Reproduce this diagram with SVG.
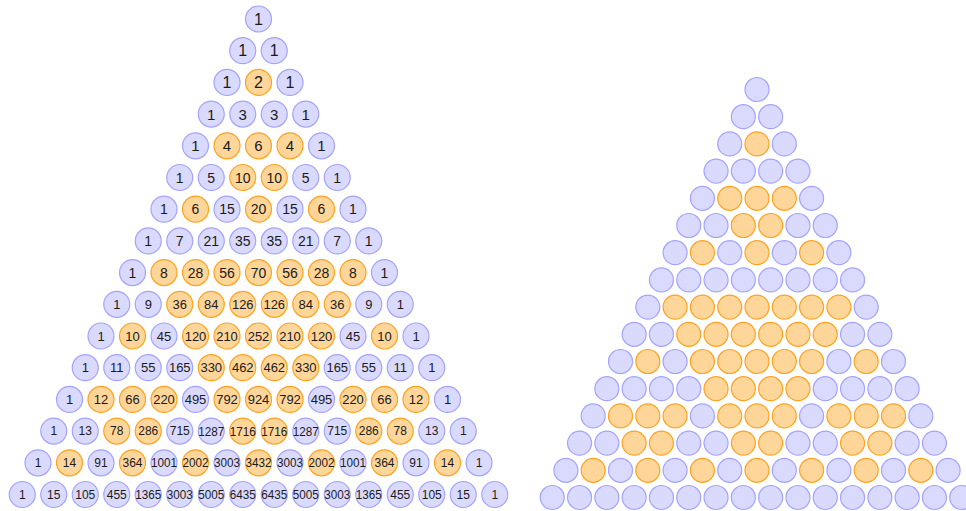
<svg xmlns="http://www.w3.org/2000/svg" width="966" height="511" viewBox="0 0 966 511">
<style>
.b{fill:#dadaff;stroke:#a3a3ff;stroke-width:1.2}
.e{fill:#ffd699;stroke:#ffa21f;stroke-width:1.2}
text{font-family:"Liberation Sans",Arial,sans-serif;fill:#1a1a1a;text-anchor:middle;dominant-baseline:central}
.f16{font-size:16px}.f15{font-size:15px}.f14{font-size:14px}.f13{font-size:13px}.f12{font-size:12px}
.w{font-size:13px}
</style>
<rect width="966" height="511" fill="#ffffff"/>
<g id="connectors"></g>
<g id="left-triangle">
<g class="f16" transform="translate(258.5,19)">
<g id="p0-0"><circle class="b" r="13"/><text>1</text></g>
</g>
<g class="f16" transform="translate(242.75,50.7)">
<g id="p1-0"><circle class="b" r="13"/><text>1</text></g>
<g id="p1-1" transform="translate(31.5)"><circle class="b" r="13"/><text>1</text></g>
</g>
<g class="f16" transform="translate(227,82.4)">
<g id="p2-0"><circle class="b" r="13"/><text>1</text></g>
<g id="p2-1" transform="translate(31.5)"><circle class="e" r="13"/><text>2</text></g>
<g id="p2-2" transform="translate(63)"><circle class="b" r="13"/><text>1</text></g>
</g>
<g class="f15" transform="translate(211.25,114.1)">
<g id="p3-0"><circle class="b" r="13"/><text>1</text></g>
<g id="p3-1" transform="translate(31.5)"><circle class="b" r="13"/><text>3</text></g>
<g id="p3-2" transform="translate(63)"><circle class="b" r="13"/><text>3</text></g>
<g id="p3-3" transform="translate(94.5)"><circle class="b" r="13"/><text>1</text></g>
</g>
<g class="f15" transform="translate(195.5,145.8)">
<g id="p4-0"><circle class="b" r="13"/><text>1</text></g>
<g id="p4-1" transform="translate(31.5)"><circle class="e" r="13"/><text>4</text></g>
<g id="p4-2" transform="translate(63)"><circle class="e" r="13"/><text>6</text></g>
<g id="p4-3" transform="translate(94.5)"><circle class="e" r="13"/><text>4</text></g>
<g id="p4-4" transform="translate(126)"><circle class="b" r="13"/><text>1</text></g>
</g>
<g class="f14" transform="translate(179.75,177.5)">
<g id="p5-0"><circle class="b" r="13"/><text>1</text></g>
<g id="p5-1" transform="translate(31.5)"><circle class="b" r="13"/><text>5</text></g>
<g id="p5-2" transform="translate(63)"><circle class="e" r="13"/><text>10</text></g>
<g id="p5-3" transform="translate(94.5)"><circle class="e" r="13"/><text>10</text></g>
<g id="p5-4" transform="translate(126)"><circle class="b" r="13"/><text>5</text></g>
<g id="p5-5" transform="translate(157.5)"><circle class="b" r="13"/><text>1</text></g>
</g>
<g class="f14" transform="translate(164,209.2)">
<g id="p6-0"><circle class="b" r="13"/><text>1</text></g>
<g id="p6-1" transform="translate(31.5)"><circle class="e" r="13"/><text>6</text></g>
<g id="p6-2" transform="translate(63)"><circle class="b" r="13"/><text>15</text></g>
<g id="p6-3" transform="translate(94.5)"><circle class="e" r="13"/><text>20</text></g>
<g id="p6-4" transform="translate(126)"><circle class="b" r="13"/><text>15</text></g>
<g id="p6-5" transform="translate(157.5)"><circle class="e" r="13"/><text>6</text></g>
<g id="p6-6" transform="translate(189)"><circle class="b" r="13"/><text>1</text></g>
</g>
<g class="f14" transform="translate(148.25,240.9)">
<g id="p7-0"><circle class="b" r="13"/><text>1</text></g>
<g id="p7-1" transform="translate(31.5)"><circle class="b" r="13"/><text>7</text></g>
<g id="p7-2" transform="translate(63)"><circle class="b" r="13"/><text>21</text></g>
<g id="p7-3" transform="translate(94.5)"><circle class="b" r="13"/><text>35</text></g>
<g id="p7-4" transform="translate(126)"><circle class="b" r="13"/><text>35</text></g>
<g id="p7-5" transform="translate(157.5)"><circle class="b" r="13"/><text>21</text></g>
<g id="p7-6" transform="translate(189)"><circle class="b" r="13"/><text>7</text></g>
<g id="p7-7" transform="translate(220.5)"><circle class="b" r="13"/><text>1</text></g>
</g>
<g class="f14" transform="translate(132.5,272.6)">
<g id="p8-0"><circle class="b" r="13"/><text>1</text></g>
<g id="p8-1" transform="translate(31.5)"><circle class="e" r="13"/><text>8</text></g>
<g id="p8-2" transform="translate(63)"><circle class="e" r="13"/><text>28</text></g>
<g id="p8-3" transform="translate(94.5)"><circle class="e" r="13"/><text>56</text></g>
<g id="p8-4" transform="translate(126)"><circle class="e" r="13"/><text>70</text></g>
<g id="p8-5" transform="translate(157.5)"><circle class="e" r="13"/><text>56</text></g>
<g id="p8-6" transform="translate(189)"><circle class="e" r="13"/><text>28</text></g>
<g id="p8-7" transform="translate(220.5)"><circle class="e" r="13"/><text>8</text></g>
<g id="p8-8" transform="translate(252)"><circle class="b" r="13"/><text>1</text></g>
</g>
<g class="f13" transform="translate(116.75,304.3)">
<g id="p9-0"><circle class="b" r="13"/><text>1</text></g>
<g id="p9-1" transform="translate(31.5)"><circle class="b" r="13"/><text>9</text></g>
<g id="p9-2" transform="translate(63)"><circle class="e" r="13"/><text>36</text></g>
<g id="p9-3" transform="translate(94.5)"><circle class="e" r="13"/><text>84</text></g>
<g id="p9-4" transform="translate(126)"><circle class="e" r="13"/><text>126</text></g>
<g id="p9-5" transform="translate(157.5)"><circle class="e" r="13"/><text>126</text></g>
<g id="p9-6" transform="translate(189)"><circle class="e" r="13"/><text>84</text></g>
<g id="p9-7" transform="translate(220.5)"><circle class="e" r="13"/><text>36</text></g>
<g id="p9-8" transform="translate(252)"><circle class="b" r="13"/><text>9</text></g>
<g id="p9-9" transform="translate(283.5)"><circle class="b" r="13"/><text>1</text></g>
</g>
<g class="f13" transform="translate(101,336)">
<g id="p10-0"><circle class="b" r="13"/><text>1</text></g>
<g id="p10-1" transform="translate(31.5)"><circle class="e" r="13"/><text>10</text></g>
<g id="p10-2" transform="translate(63)"><circle class="b" r="13"/><text>45</text></g>
<g id="p10-3" transform="translate(94.5)"><circle class="e" r="13"/><text>120</text></g>
<g id="p10-4" transform="translate(126)"><circle class="e" r="13"/><text>210</text></g>
<g id="p10-5" transform="translate(157.5)"><circle class="e" r="13"/><text>252</text></g>
<g id="p10-6" transform="translate(189)"><circle class="e" r="13"/><text>210</text></g>
<g id="p10-7" transform="translate(220.5)"><circle class="e" r="13"/><text>120</text></g>
<g id="p10-8" transform="translate(252)"><circle class="b" r="13"/><text>45</text></g>
<g id="p10-9" transform="translate(283.5)"><circle class="e" r="13"/><text>10</text></g>
<g id="p10-10" transform="translate(315)"><circle class="b" r="13"/><text>1</text></g>
</g>
<g class="f13" transform="translate(85.25,367.7)">
<g id="p11-0"><circle class="b" r="13"/><text>1</text></g>
<g id="p11-1" transform="translate(31.5)"><circle class="b" r="13"/><text>11</text></g>
<g id="p11-2" transform="translate(63)"><circle class="b" r="13"/><text>55</text></g>
<g id="p11-3" transform="translate(94.5)"><circle class="b" r="13"/><text>165</text></g>
<g id="p11-4" transform="translate(126)"><circle class="e" r="13"/><text>330</text></g>
<g id="p11-5" transform="translate(157.5)"><circle class="e" r="13"/><text>462</text></g>
<g id="p11-6" transform="translate(189)"><circle class="e" r="13"/><text>462</text></g>
<g id="p11-7" transform="translate(220.5)"><circle class="e" r="13"/><text>330</text></g>
<g id="p11-8" transform="translate(252)"><circle class="b" r="13"/><text>165</text></g>
<g id="p11-9" transform="translate(283.5)"><circle class="b" r="13"/><text>55</text></g>
<g id="p11-10" transform="translate(315)"><circle class="b" r="13"/><text>11</text></g>
<g id="p11-11" transform="translate(346.5)"><circle class="b" r="13"/><text>1</text></g>
</g>
<g class="f13" transform="translate(69.5,399.4)">
<g id="p12-0"><circle class="b" r="13"/><text>1</text></g>
<g id="p12-1" transform="translate(31.5)"><circle class="e" r="13"/><text>12</text></g>
<g id="p12-2" transform="translate(63)"><circle class="e" r="13"/><text>66</text></g>
<g id="p12-3" transform="translate(94.5)"><circle class="e" r="13"/><text>220</text></g>
<g id="p12-4" transform="translate(126)"><circle class="b" r="13"/><text>495</text></g>
<g id="p12-5" transform="translate(157.5)"><circle class="e" r="13"/><text>792</text></g>
<g id="p12-6" transform="translate(189)"><circle class="e" r="13"/><text>924</text></g>
<g id="p12-7" transform="translate(220.5)"><circle class="e" r="13"/><text>792</text></g>
<g id="p12-8" transform="translate(252)"><circle class="b" r="13"/><text>495</text></g>
<g id="p12-9" transform="translate(283.5)"><circle class="e" r="13"/><text>220</text></g>
<g id="p12-10" transform="translate(315)"><circle class="e" r="13"/><text>66</text></g>
<g id="p12-11" transform="translate(346.5)"><circle class="e" r="13"/><text>12</text></g>
<g id="p12-12" transform="translate(378)"><circle class="b" r="13"/><text>1</text></g>
</g>
<g class="f12" transform="translate(53.75,431.1)">
<g id="p13-0"><circle class="b" r="13"/><text>1</text></g>
<g id="p13-1" transform="translate(31.5)"><circle class="b" r="13"/><text>13</text></g>
<g id="p13-2" transform="translate(63)"><circle class="e" r="13"/><text>78</text></g>
<g id="p13-3" transform="translate(94.5)"><circle class="e" r="13"/><text>286</text></g>
<g id="p13-4" transform="translate(126)"><circle class="b" r="13"/><text>715</text></g>
<g id="p13-5" transform="translate(157.5)"><circle class="b" r="13"/><text class="w" textLength="26" lengthAdjust="spacingAndGlyphs">1287</text></g>
<g id="p13-6" transform="translate(189)"><circle class="e" r="13"/><text class="w" textLength="26" lengthAdjust="spacingAndGlyphs">1716</text></g>
<g id="p13-7" transform="translate(220.5)"><circle class="e" r="13"/><text class="w" textLength="26" lengthAdjust="spacingAndGlyphs">1716</text></g>
<g id="p13-8" transform="translate(252)"><circle class="b" r="13"/><text class="w" textLength="26" lengthAdjust="spacingAndGlyphs">1287</text></g>
<g id="p13-9" transform="translate(283.5)"><circle class="b" r="13"/><text>715</text></g>
<g id="p13-10" transform="translate(315)"><circle class="e" r="13"/><text>286</text></g>
<g id="p13-11" transform="translate(346.5)"><circle class="e" r="13"/><text>78</text></g>
<g id="p13-12" transform="translate(378)"><circle class="b" r="13"/><text>13</text></g>
<g id="p13-13" transform="translate(409.5)"><circle class="b" r="13"/><text>1</text></g>
</g>
<g class="f12" transform="translate(38,462.8)">
<g id="p14-0"><circle class="b" r="13"/><text>1</text></g>
<g id="p14-1" transform="translate(31.5)"><circle class="e" r="13"/><text>14</text></g>
<g id="p14-2" transform="translate(63)"><circle class="b" r="13"/><text>91</text></g>
<g id="p14-3" transform="translate(94.5)"><circle class="e" r="13"/><text>364</text></g>
<g id="p14-4" transform="translate(126)"><circle class="b" r="13"/><text class="w" textLength="26" lengthAdjust="spacingAndGlyphs">1001</text></g>
<g id="p14-5" transform="translate(157.5)"><circle class="e" r="13"/><text class="w" textLength="26" lengthAdjust="spacingAndGlyphs">2002</text></g>
<g id="p14-6" transform="translate(189)"><circle class="b" r="13"/><text class="w" textLength="26" lengthAdjust="spacingAndGlyphs">3003</text></g>
<g id="p14-7" transform="translate(220.5)"><circle class="e" r="13"/><text class="w" textLength="26" lengthAdjust="spacingAndGlyphs">3432</text></g>
<g id="p14-8" transform="translate(252)"><circle class="b" r="13"/><text class="w" textLength="26" lengthAdjust="spacingAndGlyphs">3003</text></g>
<g id="p14-9" transform="translate(283.5)"><circle class="e" r="13"/><text class="w" textLength="26" lengthAdjust="spacingAndGlyphs">2002</text></g>
<g id="p14-10" transform="translate(315)"><circle class="b" r="13"/><text class="w" textLength="26" lengthAdjust="spacingAndGlyphs">1001</text></g>
<g id="p14-11" transform="translate(346.5)"><circle class="e" r="13"/><text>364</text></g>
<g id="p14-12" transform="translate(378)"><circle class="b" r="13"/><text>91</text></g>
<g id="p14-13" transform="translate(409.5)"><circle class="e" r="13"/><text>14</text></g>
<g id="p14-14" transform="translate(441)"><circle class="b" r="13"/><text>1</text></g>
</g>
<g class="f12" transform="translate(22.25,494.5)">
<g id="p15-0"><circle class="b" r="13"/><text>1</text></g>
<g id="p15-1" transform="translate(31.5)"><circle class="b" r="13"/><text>15</text></g>
<g id="p15-2" transform="translate(63)"><circle class="b" r="13"/><text>105</text></g>
<g id="p15-3" transform="translate(94.5)"><circle class="b" r="13"/><text>455</text></g>
<g id="p15-4" transform="translate(126)"><circle class="b" r="13"/><text class="w" textLength="26" lengthAdjust="spacingAndGlyphs">1365</text></g>
<g id="p15-5" transform="translate(157.5)"><circle class="b" r="13"/><text class="w" textLength="26" lengthAdjust="spacingAndGlyphs">3003</text></g>
<g id="p15-6" transform="translate(189)"><circle class="b" r="13"/><text class="w" textLength="26" lengthAdjust="spacingAndGlyphs">5005</text></g>
<g id="p15-7" transform="translate(220.5)"><circle class="b" r="13"/><text class="w" textLength="26" lengthAdjust="spacingAndGlyphs">6435</text></g>
<g id="p15-8" transform="translate(252)"><circle class="b" r="13"/><text class="w" textLength="26" lengthAdjust="spacingAndGlyphs">6435</text></g>
<g id="p15-9" transform="translate(283.5)"><circle class="b" r="13"/><text class="w" textLength="26" lengthAdjust="spacingAndGlyphs">5005</text></g>
<g id="p15-10" transform="translate(315)"><circle class="b" r="13"/><text class="w" textLength="26" lengthAdjust="spacingAndGlyphs">3003</text></g>
<g id="p15-11" transform="translate(346.5)"><circle class="b" r="13"/><text class="w" textLength="26" lengthAdjust="spacingAndGlyphs">1365</text></g>
<g id="p15-12" transform="translate(378)"><circle class="b" r="13"/><text>455</text></g>
<g id="p15-13" transform="translate(409.5)"><circle class="b" r="13"/><text>105</text></g>
<g id="p15-14" transform="translate(441)"><circle class="b" r="13"/><text>15</text></g>
<g id="p15-15" transform="translate(472.5)"><circle class="b" r="13"/><text>1</text></g>
</g>
</g>
<g id="right-triangle">
<g transform="translate(757,89.5)">
<g id="q0-0"><circle class="b" r="12"/></g>
</g>
<g transform="translate(743.35,116.7)">
<g id="q1-0"><circle class="b" r="12"/></g>
<g id="q1-1" transform="translate(27.3)"><circle class="b" r="12"/></g>
</g>
<g transform="translate(729.7,143.9)">
<g id="q2-0"><circle class="b" r="12"/></g>
<g id="q2-1" transform="translate(27.3)"><circle class="e" r="12"/></g>
<g id="q2-2" transform="translate(54.6)"><circle class="b" r="12"/></g>
</g>
<g transform="translate(716.05,171.1)">
<g id="q3-0"><circle class="b" r="12"/></g>
<g id="q3-1" transform="translate(27.3)"><circle class="b" r="12"/></g>
<g id="q3-2" transform="translate(54.6)"><circle class="b" r="12"/></g>
<g id="q3-3" transform="translate(81.9)"><circle class="b" r="12"/></g>
</g>
<g transform="translate(702.4,198.3)">
<g id="q4-0"><circle class="b" r="12"/></g>
<g id="q4-1" transform="translate(27.3)"><circle class="e" r="12"/></g>
<g id="q4-2" transform="translate(54.6)"><circle class="e" r="12"/></g>
<g id="q4-3" transform="translate(81.9)"><circle class="e" r="12"/></g>
<g id="q4-4" transform="translate(109.2)"><circle class="b" r="12"/></g>
</g>
<g transform="translate(688.75,225.5)">
<g id="q5-0"><circle class="b" r="12"/></g>
<g id="q5-1" transform="translate(27.3)"><circle class="b" r="12"/></g>
<g id="q5-2" transform="translate(54.6)"><circle class="e" r="12"/></g>
<g id="q5-3" transform="translate(81.9)"><circle class="e" r="12"/></g>
<g id="q5-4" transform="translate(109.2)"><circle class="b" r="12"/></g>
<g id="q5-5" transform="translate(136.5)"><circle class="b" r="12"/></g>
</g>
<g transform="translate(675.1,252.7)">
<g id="q6-0"><circle class="b" r="12"/></g>
<g id="q6-1" transform="translate(27.3)"><circle class="e" r="12"/></g>
<g id="q6-2" transform="translate(54.6)"><circle class="b" r="12"/></g>
<g id="q6-3" transform="translate(81.9)"><circle class="e" r="12"/></g>
<g id="q6-4" transform="translate(109.2)"><circle class="b" r="12"/></g>
<g id="q6-5" transform="translate(136.5)"><circle class="e" r="12"/></g>
<g id="q6-6" transform="translate(163.8)"><circle class="b" r="12"/></g>
</g>
<g transform="translate(661.45,279.9)">
<g id="q7-0"><circle class="b" r="12"/></g>
<g id="q7-1" transform="translate(27.3)"><circle class="b" r="12"/></g>
<g id="q7-2" transform="translate(54.6)"><circle class="b" r="12"/></g>
<g id="q7-3" transform="translate(81.9)"><circle class="b" r="12"/></g>
<g id="q7-4" transform="translate(109.2)"><circle class="b" r="12"/></g>
<g id="q7-5" transform="translate(136.5)"><circle class="b" r="12"/></g>
<g id="q7-6" transform="translate(163.8)"><circle class="b" r="12"/></g>
<g id="q7-7" transform="translate(191.1)"><circle class="b" r="12"/></g>
</g>
<g transform="translate(647.8,307.1)">
<g id="q8-0"><circle class="b" r="12"/></g>
<g id="q8-1" transform="translate(27.3)"><circle class="e" r="12"/></g>
<g id="q8-2" transform="translate(54.6)"><circle class="e" r="12"/></g>
<g id="q8-3" transform="translate(81.9)"><circle class="e" r="12"/></g>
<g id="q8-4" transform="translate(109.2)"><circle class="e" r="12"/></g>
<g id="q8-5" transform="translate(136.5)"><circle class="e" r="12"/></g>
<g id="q8-6" transform="translate(163.8)"><circle class="e" r="12"/></g>
<g id="q8-7" transform="translate(191.1)"><circle class="e" r="12"/></g>
<g id="q8-8" transform="translate(218.4)"><circle class="b" r="12"/></g>
</g>
<g transform="translate(634.15,334.3)">
<g id="q9-0"><circle class="b" r="12"/></g>
<g id="q9-1" transform="translate(27.3)"><circle class="b" r="12"/></g>
<g id="q9-2" transform="translate(54.6)"><circle class="e" r="12"/></g>
<g id="q9-3" transform="translate(81.9)"><circle class="e" r="12"/></g>
<g id="q9-4" transform="translate(109.2)"><circle class="e" r="12"/></g>
<g id="q9-5" transform="translate(136.5)"><circle class="e" r="12"/></g>
<g id="q9-6" transform="translate(163.8)"><circle class="e" r="12"/></g>
<g id="q9-7" transform="translate(191.1)"><circle class="e" r="12"/></g>
<g id="q9-8" transform="translate(218.4)"><circle class="b" r="12"/></g>
<g id="q9-9" transform="translate(245.7)"><circle class="b" r="12"/></g>
</g>
<g transform="translate(620.5,361.5)">
<g id="q10-0"><circle class="b" r="12"/></g>
<g id="q10-1" transform="translate(27.3)"><circle class="e" r="12"/></g>
<g id="q10-2" transform="translate(54.6)"><circle class="b" r="12"/></g>
<g id="q10-3" transform="translate(81.9)"><circle class="e" r="12"/></g>
<g id="q10-4" transform="translate(109.2)"><circle class="e" r="12"/></g>
<g id="q10-5" transform="translate(136.5)"><circle class="e" r="12"/></g>
<g id="q10-6" transform="translate(163.8)"><circle class="e" r="12"/></g>
<g id="q10-7" transform="translate(191.1)"><circle class="e" r="12"/></g>
<g id="q10-8" transform="translate(218.4)"><circle class="b" r="12"/></g>
<g id="q10-9" transform="translate(245.7)"><circle class="e" r="12"/></g>
<g id="q10-10" transform="translate(273)"><circle class="b" r="12"/></g>
</g>
<g transform="translate(606.85,388.7)">
<g id="q11-0"><circle class="b" r="12"/></g>
<g id="q11-1" transform="translate(27.3)"><circle class="b" r="12"/></g>
<g id="q11-2" transform="translate(54.6)"><circle class="b" r="12"/></g>
<g id="q11-3" transform="translate(81.9)"><circle class="b" r="12"/></g>
<g id="q11-4" transform="translate(109.2)"><circle class="e" r="12"/></g>
<g id="q11-5" transform="translate(136.5)"><circle class="e" r="12"/></g>
<g id="q11-6" transform="translate(163.8)"><circle class="e" r="12"/></g>
<g id="q11-7" transform="translate(191.1)"><circle class="e" r="12"/></g>
<g id="q11-8" transform="translate(218.4)"><circle class="b" r="12"/></g>
<g id="q11-9" transform="translate(245.7)"><circle class="b" r="12"/></g>
<g id="q11-10" transform="translate(273)"><circle class="b" r="12"/></g>
<g id="q11-11" transform="translate(300.3)"><circle class="b" r="12"/></g>
</g>
<g transform="translate(593.2,415.9)">
<g id="q12-0"><circle class="b" r="12"/></g>
<g id="q12-1" transform="translate(27.3)"><circle class="e" r="12"/></g>
<g id="q12-2" transform="translate(54.6)"><circle class="e" r="12"/></g>
<g id="q12-3" transform="translate(81.9)"><circle class="e" r="12"/></g>
<g id="q12-4" transform="translate(109.2)"><circle class="b" r="12"/></g>
<g id="q12-5" transform="translate(136.5)"><circle class="e" r="12"/></g>
<g id="q12-6" transform="translate(163.8)"><circle class="e" r="12"/></g>
<g id="q12-7" transform="translate(191.1)"><circle class="e" r="12"/></g>
<g id="q12-8" transform="translate(218.4)"><circle class="b" r="12"/></g>
<g id="q12-9" transform="translate(245.7)"><circle class="e" r="12"/></g>
<g id="q12-10" transform="translate(273)"><circle class="e" r="12"/></g>
<g id="q12-11" transform="translate(300.3)"><circle class="e" r="12"/></g>
<g id="q12-12" transform="translate(327.6)"><circle class="b" r="12"/></g>
</g>
<g transform="translate(579.55,443.1)">
<g id="q13-0"><circle class="b" r="12"/></g>
<g id="q13-1" transform="translate(27.3)"><circle class="b" r="12"/></g>
<g id="q13-2" transform="translate(54.6)"><circle class="e" r="12"/></g>
<g id="q13-3" transform="translate(81.9)"><circle class="e" r="12"/></g>
<g id="q13-4" transform="translate(109.2)"><circle class="b" r="12"/></g>
<g id="q13-5" transform="translate(136.5)"><circle class="b" r="12"/></g>
<g id="q13-6" transform="translate(163.8)"><circle class="e" r="12"/></g>
<g id="q13-7" transform="translate(191.1)"><circle class="e" r="12"/></g>
<g id="q13-8" transform="translate(218.4)"><circle class="b" r="12"/></g>
<g id="q13-9" transform="translate(245.7)"><circle class="b" r="12"/></g>
<g id="q13-10" transform="translate(273)"><circle class="e" r="12"/></g>
<g id="q13-11" transform="translate(300.3)"><circle class="e" r="12"/></g>
<g id="q13-12" transform="translate(327.6)"><circle class="b" r="12"/></g>
<g id="q13-13" transform="translate(354.9)"><circle class="b" r="12"/></g>
</g>
<g transform="translate(565.9,470.3)">
<g id="q14-0"><circle class="b" r="12"/></g>
<g id="q14-1" transform="translate(27.3)"><circle class="e" r="12"/></g>
<g id="q14-2" transform="translate(54.6)"><circle class="b" r="12"/></g>
<g id="q14-3" transform="translate(81.9)"><circle class="e" r="12"/></g>
<g id="q14-4" transform="translate(109.2)"><circle class="b" r="12"/></g>
<g id="q14-5" transform="translate(136.5)"><circle class="e" r="12"/></g>
<g id="q14-6" transform="translate(163.8)"><circle class="b" r="12"/></g>
<g id="q14-7" transform="translate(191.1)"><circle class="e" r="12"/></g>
<g id="q14-8" transform="translate(218.4)"><circle class="b" r="12"/></g>
<g id="q14-9" transform="translate(245.7)"><circle class="e" r="12"/></g>
<g id="q14-10" transform="translate(273)"><circle class="b" r="12"/></g>
<g id="q14-11" transform="translate(300.3)"><circle class="e" r="12"/></g>
<g id="q14-12" transform="translate(327.6)"><circle class="b" r="12"/></g>
<g id="q14-13" transform="translate(354.9)"><circle class="e" r="12"/></g>
<g id="q14-14" transform="translate(382.2)"><circle class="b" r="12"/></g>
</g>
<g transform="translate(552.25,497.5)">
<g id="q15-0"><circle class="b" r="12"/></g>
<g id="q15-1" transform="translate(27.3)"><circle class="b" r="12"/></g>
<g id="q15-2" transform="translate(54.6)"><circle class="b" r="12"/></g>
<g id="q15-3" transform="translate(81.9)"><circle class="b" r="12"/></g>
<g id="q15-4" transform="translate(109.2)"><circle class="b" r="12"/></g>
<g id="q15-5" transform="translate(136.5)"><circle class="b" r="12"/></g>
<g id="q15-6" transform="translate(163.8)"><circle class="b" r="12"/></g>
<g id="q15-7" transform="translate(191.1)"><circle class="b" r="12"/></g>
<g id="q15-8" transform="translate(218.4)"><circle class="b" r="12"/></g>
<g id="q15-9" transform="translate(245.7)"><circle class="b" r="12"/></g>
<g id="q15-10" transform="translate(273)"><circle class="b" r="12"/></g>
<g id="q15-11" transform="translate(300.3)"><circle class="b" r="12"/></g>
<g id="q15-12" transform="translate(327.6)"><circle class="b" r="12"/></g>
<g id="q15-13" transform="translate(354.9)"><circle class="b" r="12"/></g>
<g id="q15-14" transform="translate(382.2)"><circle class="b" r="12"/></g>
<g id="q15-15" transform="translate(409.5)"><circle class="b" r="12"/></g>
</g>
</g>
</svg>
